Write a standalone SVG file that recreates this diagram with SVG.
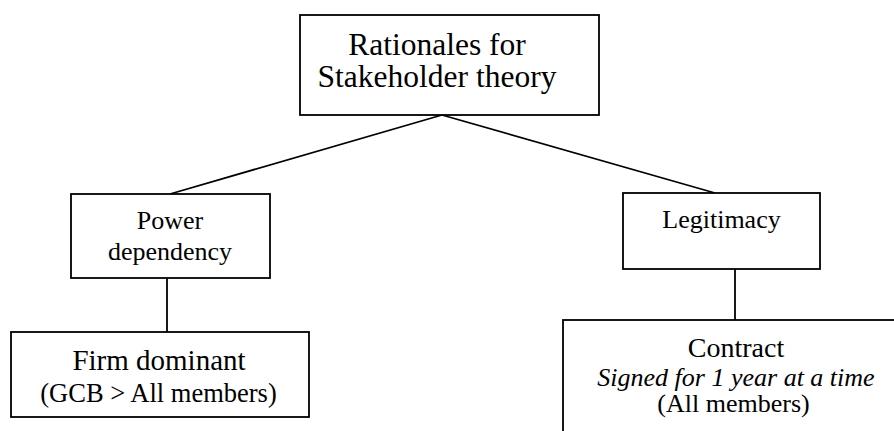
<svg xmlns="http://www.w3.org/2000/svg" width="894" height="431" viewBox="0 0 894 431">
  <style>
    .box { fill: #ffffff; stroke: #000000; stroke-width: 1.8; }
    .link { stroke: #000000; stroke-width: 1.8; fill: none; }
    .lbl { fill: #000000; text-anchor: middle; }
  </style>
  <rect width="894" height="431" fill="#ffffff"/>

  <!-- connectors -->
  <g id="connectors">
    <line class="link" x1="442" y1="115" x2="170" y2="194"/>
    <line class="link" x1="442" y1="115" x2="715" y2="193"/>
    <line class="link" x1="167" y1="278" x2="167" y2="332"/>
    <line class="link" x1="735" y1="269" x2="735" y2="320"/>
  </g>

  <g font-family="'Liberation Serif', 'Times New Roman', Tinos, 'DejaVu Serif', serif">
    <g id="node-root">
      <rect class="box" x="300" y="15" width="299" height="100"/>
      <text class="lbl" x="437" y="55" font-size="31.5">Rationales for</text>
      <text class="lbl" x="437" y="87" font-size="31.5">Stakeholder theory</text>
    </g>

    <g id="node-power">
      <rect class="box" x="71" y="194" width="199" height="84"/>
      <text class="lbl" x="170" y="229" font-size="26">Power</text>
      <text class="lbl" x="170" y="260" font-size="26">dependency</text>
    </g>

    <g id="node-legitimacy">
      <rect class="box" x="623" y="193" width="197" height="76"/>
      <text class="lbl" x="721.5" y="228" font-size="26">Legitimacy</text>
    </g>

    <g id="node-firm">
      <rect class="box" x="11" y="332" width="298" height="85"/>
      <text class="lbl" x="159" y="370" font-size="29">Firm dominant</text>
      <text class="lbl" x="158.5" y="401.5" font-size="26.5">(GCB &gt; All members)</text>
    </g>

    <g id="node-contract">
      <rect class="box" x="563" y="320" width="344" height="130"/>
      <text class="lbl" x="736" y="356.5" font-size="28">Contract</text>
      <text class="lbl" x="736" y="386" font-size="26" font-style="italic">Signed for 1 year at a time</text>
      <text class="lbl" x="733.5" y="412" font-size="26">(All members)</text>
    </g>
  </g>
</svg>
